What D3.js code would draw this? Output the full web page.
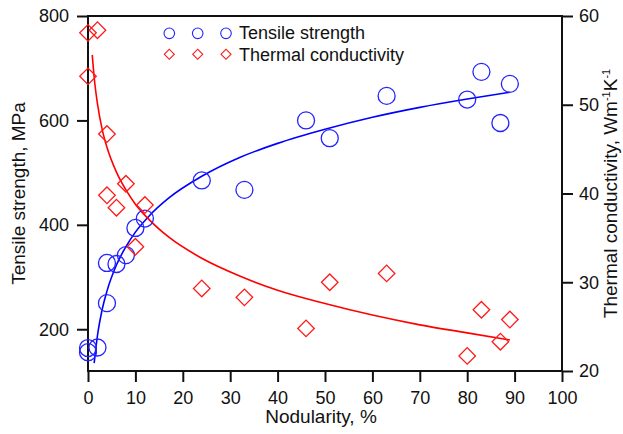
<!DOCTYPE html>
<html>
<head>
<meta charset="utf-8">
<script src="https://cdn.jsdelivr.net/npm/d3@7"></script>
<style>
  body { margin: 0; background: #fff; }
  svg { display: block; font-family: "Liberation Sans", Arial, sans-serif; }
</style>
</head>
<body>
<svg width="623" height="434"></svg>
<script>
// nodularity (%) of the samples
const nodularity = [0, 0, 2, 4, 4, 6, 8, 10, 12, 24, 33, 46, 51, 63, 80, 83, 87, 89];
// tensile strength, MPa
const tensile = [164, 156, 165, 250, 327, 325, 342, 394, 412, 485, 467, 600, 566, 647, 640, 693, 595, 670];
// thermal conductivity, W/mK (right axis)
const thermalX = [0, 0, 2, 4, 4, 6, 8, 10, 12, 24, 33, 46, 51, 63, 80, 83, 87, 89];
const thermal = [58.1, 53.2, 58.4, 46.7, 39.8, 38.4, 41.1, 34.0, 38.7, 29.3, 28.3, 24.8, 30.0, 31.0, 21.7, 26.9, 23.3, 25.8];

// fitted curves
const tensileFitX = [1.3, 2, 3, 4, 6, 8, 10, 13, 17, 24, 32, 40, 50, 60, 70, 80, 89];
const tensileFitY = [135, 188, 238, 273, 323, 358, 386, 418, 451, 493, 529, 556, 583, 606, 625, 641, 654];
const thermalFitX = [0.9, 1.3, 2, 3, 4, 6, 8, 10, 13, 17, 24, 32, 40, 50, 60, 70, 80, 89];
const thermalFitY = [55.6, 53.1, 50.1, 47.2, 45.2, 42.4, 40.4, 38.8, 37.0, 35.1, 32.7, 30.7, 29.1, 27.6, 26.3, 25.2, 24.3, 23.5];

const xTicks = [0, 10, 20, 30, 40, 50, 60, 70, 80, 90, 100];
const yLeftTicks = [200, 400, 600, 800];
const yRightTicks = [20, 30, 40, 50, 60];

const svg = d3.select("svg");
const mLeft = 88, mRight = 562, mTop = 16, mBottom = 371;
const blue = "#2323ff", red = "#ff1a1a";

const x = d3.scaleLinear().domain([0, 100]).range([mLeft, mRight]);
const yL = d3.scaleLinear().domain([120, 800]).range([mBottom, mTop]);
const yR = d3.scaleLinear().domain([20, 60]).range([mBottom, mTop]);

// axes
const axisStyle = g => {
  g.select(".domain").remove();
  g.selectAll(".tick line").attr("stroke", "#111").attr("stroke-width", 2);
  g.selectAll(".tick text").attr("fill", "#111").style("font-size", "18px");
};

svg.append("g")
  .attr("transform", `translate(0,${mBottom})`)
  .call(d3.axisBottom(x).tickValues(xTicks).tickSize(11).tickPadding(9).tickFormat(d3.format("d")))
  .call(axisStyle);

svg.append("g")
  .attr("transform", `translate(${mLeft},0)`)
  .call(d3.axisLeft(yL).tickValues(yLeftTicks).tickSize(11).tickPadding(8).tickFormat(d3.format("d")))
  .call(axisStyle);

svg.append("g")
  .attr("transform", `translate(${mRight},0)`)
  .call(d3.axisRight(yR).tickValues(yRightTicks).tickSize(11).tickPadding(6).tickFormat(d3.format("d")))
  .call(axisStyle);

// frame
svg.append("rect")
  .attr("x", mLeft).attr("y", mTop)
  .attr("width", mRight - mLeft).attr("height", mBottom - mTop)
  .attr("fill", "none").attr("stroke", "#111").attr("stroke-width", 2);

// fit lines
svg.append("path")
  .datum(tensileFitX.map((v, i) => [v, tensileFitY[i]]))
  .attr("fill", "none").attr("stroke", "#0000ff").attr("stroke-width", 1.6)
  .attr("d", d3.line().x(d => x(d[0])).y(d => yL(d[1])).curve(d3.curveMonotoneX));

svg.append("path")
  .datum(thermalFitX.map((v, i) => [v, thermalFitY[i]]))
  .attr("fill", "none").attr("stroke", "#ff0000").attr("stroke-width", 1.6)
  .attr("d", d3.line().x(d => x(d[0])).y(d => yR(d[1])).curve(d3.curveMonotoneX));

// markers
svg.append("g").selectAll("circle")
  .data(nodularity.map((v, i) => [v, tensile[i]]))
  .enter().append("circle")
  .attr("cx", d => x(d[0]))
  .attr("cy", d => yL(d[1]))
  .attr("r", 8.5)
  .attr("fill", "none").attr("stroke", blue).attr("stroke-width", 1.3);

const diamond = d3.symbol().type(d3.symbolSquare);
svg.append("g").selectAll("path")
  .data(thermalX.map((v, i) => [v, thermal[i]]))
  .enter().append("path")
  .attr("d", diamond.size(137)())
  .attr("transform", d => `translate(${x(d[0])},${yR(d[1])}) rotate(45)`)
  .attr("fill", "none").attr("stroke", red).attr("stroke-width", 1.3);

// legend
const legX = [169.3, 197.7, 226];
const leg = svg.append("g");
leg.selectAll("circle").data(legX).enter().append("circle")
  .attr("cx", d => d).attr("cy", 33.3).attr("r", 5.3)
  .attr("fill", "none").attr("stroke", blue).attr("stroke-width", 1.1);
leg.selectAll("path").data(legX).enter().append("path")
  .attr("d", diamond.size(50)())
  .attr("transform", d => `translate(${d},54.3) rotate(45)`)
  .attr("fill", "none").attr("stroke", red).attr("stroke-width", 1.1);
leg.append("text").attr("x", 239).attr("y", 38.6)
  .style("font-size", "18px").attr("fill", "#111").text("Tensile strength");
leg.append("text").attr("x", 239).attr("y", 61)
  .style("font-size", "18px").attr("fill", "#111").text("Thermal conductivity");

// axis titles
svg.append("text")
  .attr("x", (mLeft + mRight) / 2 - 4).attr("y", 423)
  .attr("text-anchor", "middle").style("font-size", "19px").attr("fill", "#111")
  .text("Nodularity, %");

svg.append("text")
  .attr("transform", `translate(25,${(mTop + mBottom) / 2}) rotate(-90)`)
  .attr("text-anchor", "middle").style("font-size", "19px").attr("fill", "#111")
  .text("Tensile strength, MPa");

const rt = svg.append("text")
  .attr("transform", `translate(617,${(mTop + mBottom) / 2}) rotate(-90)`)
  .attr("text-anchor", "middle").style("font-size", "19px").attr("fill", "#111");
rt.append("tspan").text("Thermal conductivity, Wm");
rt.append("tspan").attr("dy", -7).style("font-size", "11px").text("-1");
rt.append("tspan").attr("dy", 7).text("K");
rt.append("tspan").attr("dy", -7).style("font-size", "11px").text("-1");
</script>
</body>
</html>
